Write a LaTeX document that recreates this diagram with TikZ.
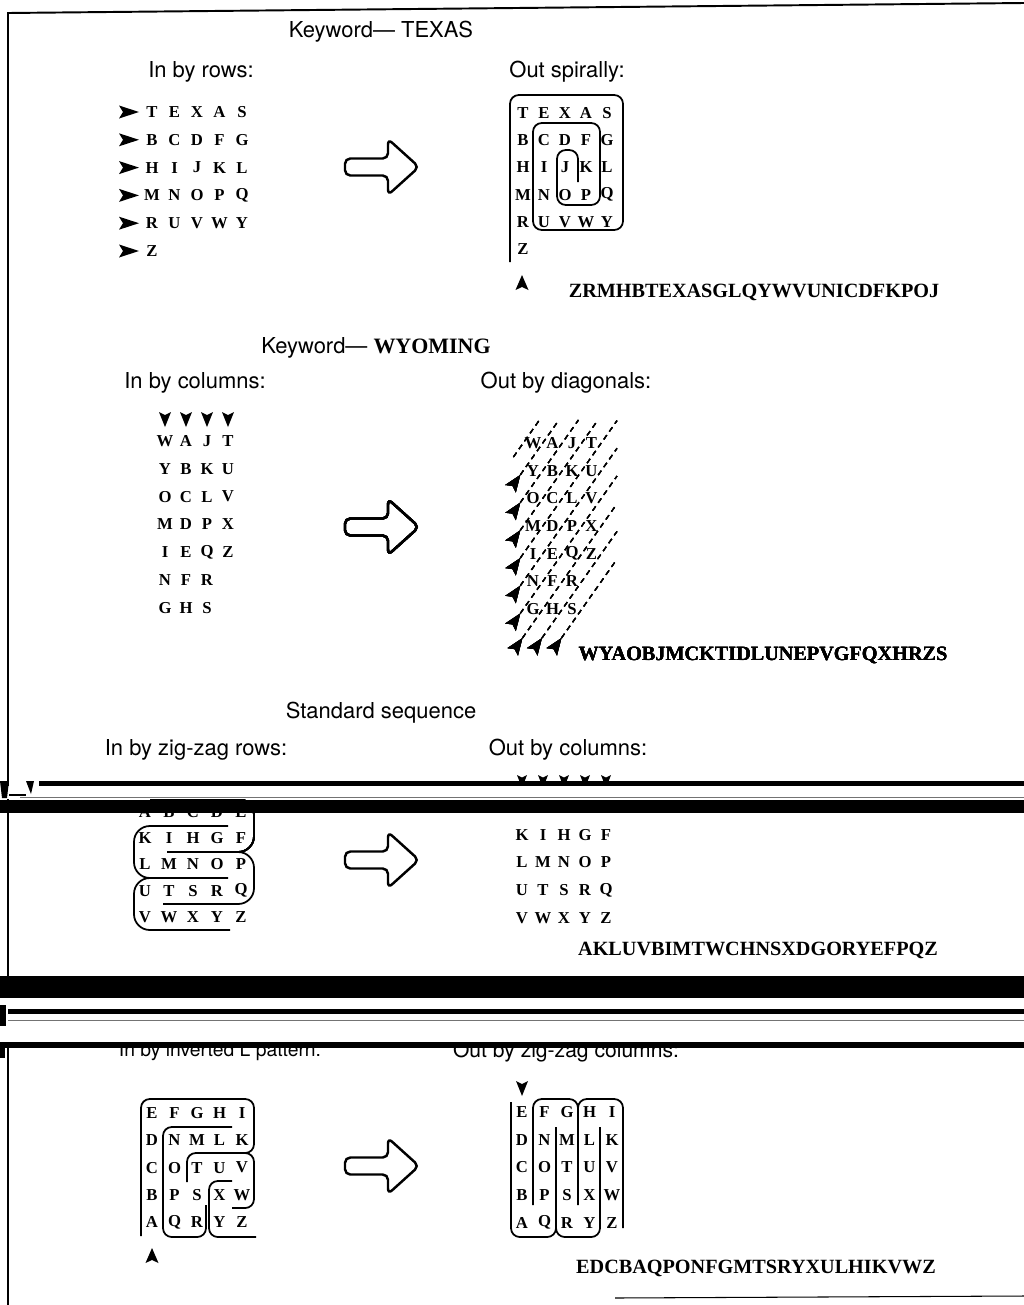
\documentclass[tikz,border=0pt]{standalone}
\usepackage{fontspec}
\setmainfont{Liberation Serif}
\setsansfont{TeX Gyre Heros}
\usepackage{tikz}
\usetikzlibrary{arrows.meta}

\newcommand{\tipmark}[5]{\fill[shift={(#1,#2)},rotate=#3] (0,0) -- ({-#4},{#5}) -- ({-0.8*#4},0) -- ({-#4},{-#5}) -- cycle;}
\newcommand{\bigarrow}[2]{\draw[blockarrow,shift={(#1,#2)}] (-16,-8.5) -- (5,-8.5) -- (5,-28) -- (36,0) -- (5,28) -- (5,8.5) -- (-38,8.5) -- (-38,-8.5) -- cycle;}

\begin{document}
\begin{tikzpicture}[x=0.02cm,y=-0.02cm,>=Stealth,
  headtxt/.style={font=\sffamily\fontsize{12.5}{15}\selectfont,inner sep=0pt},
  gridletter/.style={font=\bfseries\fontsize{9.5}{11}\selectfont,inner sep=0pt},
  codeline/.style={font=\bfseries\fontsize{11.5}{14}\selectfont,inner sep=0pt},
  wall/.style={line width=1pt,rounded corners=5pt},
  blockarrow/.style={line width=1.4pt,rounded corners=3pt},
  diagline/.style={line width=0.7pt,dash pattern=on 3pt off 2.5pt}]
\useasboundingbox (0,0) rectangle (1024,1305);

\draw[line width=1.1pt] (8,1305) -- (8,13) -- (1024,3);
\draw[line width=0.6pt] (615,1298) -- (1024,1296);

% keyword TEXAS
\node[headtxt] (kwtexas) at (381,32) {Keyword— TEXAS};
\node[headtxt] (inrows) at (201,72) {In by rows:};
\node[headtxt] (outspiral) at (567,72) {Out spirally:};
\foreach \row [count=\r from 0] in {{T,E,X,A,S},{B,C,D,F,G},{H,I,J,K,L},{M,N,O,P,Q},{R,U,V,W,Y},{Z}} {
  \foreach \l [count=\c from 0] in \row {
    \node[gridletter] (txin-\r-\c) at ({152+22.5*\c},{112+27.8*\r}) {\l};
    \node[gridletter] (txout-\r-\c) at ({523+21*\c},{113+27.2*\r}) {\l};
  }
  \tipmark{139}{112+27.8*\r}{0}{20}{6.5}
}
\bigarrow{383}{167}
\draw[wall] (510,262) -- (510,95) -- (623,95) -- (623,230) -- (533,230) -- (533,123) -- (600,123) -- (600,205) -- (557,205) -- (557,150) -- (578,150) -- (578,182);
\tipmark{522}{275}{90}{15}{6.5}
\node[codeline] (cipherA) at (754,292) {ZRMHBTEXASGLQYWVUNICDFKPOJ};

% keyword WYOMING
\node[headtxt] (kwwyoming) at (376,348) {Keyword— {\rmfamily\bfseries WYOMING}};
\node[headtxt] (incols) at (195,383) {In by columns:};
\node[headtxt] (outdiag) at (566,383) {Out by diagonals:};
\foreach \row [count=\r from 0] in {{W,A,J,T},{Y,B,K,U},{O,C,L,V},{M,D,P,X},{I,E,Q,Z},{N,F,R},{G,H,S}} {
  \foreach \l [count=\c from 0] in \row {
    \node[gridletter] (wyin-\r-\c) at ({165+21*\c},{441+27.8*\r}) {\l};
    \node[gridletter] (wyout-\r-\c) at ({533+19.5*\c},{443+27.7*\r}) {\l};
  }
}
\foreach \c in {0,...,3} \tipmark{165+21*\c}{427}{-90}{15}{6}
\foreach \s in {-0.5,0.5,...,8.5} {
  \pgfmathsetmacro{\xo}{533+19.5*\s}
  \pgfmathsetmacro{\ytop}{max(420,443-(617-\xo)/0.704)}
  \pgfmathsetmacro{\xtop}{\xo+0.704*(443-\ytop)}
  \pgfmathsetmacro{\ylow}{\s<0 ? 457 : min(443+27.7*(\s+0.65),638)}
  \pgfmathsetmacro{\xlow}{\xo-0.704*(\ylow-443)}
  \draw[diagline] (\xlow,\ylow) -- (\xtop,\ytop);
  \ifdim\s pt>0pt \tipmark{\xlow}{\ylow}{54.8}{17}{6.5}\fi
}
\bigarrow{383}{527}
\node[codeline] (cipherB) at (763,655) {WYAOBJMCKTIDLUNEPVGFQXHRZS};

% standard sequence
\node[headtxt] (stdseq) at (381,713) {Standard sequence};
\node[headtxt] (inzigzag) at (196,750) {In by zig-zag rows:};
\node[headtxt] (outcols) at (568,750) {Out by columns:};
\foreach \row [count=\r from 0] in {{A,B,C,D,E},{K,I,H,G,F},{L,M,N,O,P},{U,T,S,R,Q},{V,W,X,Y,Z}} {
  \foreach \l [count=\c from 0] in \row {
    \node[gridletter] (stin-\r-\c) at ({145+24*\c},{812+26.2*\r}) {\l};
    \node[gridletter] (stout-\r-\c) at ({522+21*\c},{807+27.7*\r}) {\l};
  }
}
\foreach \c in {0,...,4} \tipmark{522+21*\c}{788}{-90}{13}{5}
\draw[wall,rounded corners=9pt] (150,799) -- (254,799) -- (254,852) -- (167,852);
\draw[wall,rounded corners=9pt] (230,852) -- (254,852) -- (254,904) -- (163,904);
\draw[wall,rounded corners=9pt] (228,826) -- (134,826) -- (134,878) -- (228,878);
\draw[wall,rounded corners=9pt] (160,878) -- (134,878) -- (134,930) -- (230,930);
\bigarrow{383}{860}
\node[codeline] (cipherC) at (758,950) {AKLUVBIMTWCHNSXDGORYEFPQZ};

% inverted L / zig-zag columns
\node[headtxt,font=\sffamily\fontsize{11}{13}\selectfont] (inlpat) at (220,1052) {In by inverted L pattern:};
\node[headtxt,font=\sffamily\fontsize{12}{14}\selectfont] (outzzcols) at (566,1052) {Out by zig-zag columns:};
\foreach \row [count=\r from 0] in {{E,F,G,H,I},{D,N,M,L,K},{C,O,T,U,V},{B,P,S,X,W},{A,Q,R,Y,Z}} {
  \foreach \l [count=\c from 0] in \row {
    \node[gridletter] (lin-\r-\c) at ({152+22.5*\c},{1113+27.3*\r}) {\l};
    \node[gridletter] (zzout-\r-\c) at ({522+22.5*\c},{1112+27.7*\r}) {\l};
  }
}
\draw[wall] (141,1236) -- (141,1099) -- (254,1099) -- (254,1153) -- (187,1153) -- (187,1182);
\draw[wall] (235,1153) -- (254,1153) -- (254,1208) -- (232,1208);
\draw[wall] (232,1127) -- (163,1127) -- (163,1237) -- (206,1237) -- (206,1205);
\draw[wall] (232,1181) -- (209,1181) -- (209,1237) -- (256,1237);
\tipmark{152}{1248}{90}{15}{6.5}
\draw[wall] (511,1102) -- (511,1237) -- (556,1237) -- (556,1127);
\draw[wall] (533,1205) -- (533,1099) -- (578,1099) -- (578,1205);
\draw[wall] (556,1215) -- (556,1237) -- (600,1237) -- (600,1127);
\draw[wall] (578,1120) -- (578,1099) -- (623,1099) -- (623,1228);
\tipmark{522}{1096}{-90}{15}{6}
\bigarrow{383}{1166}
\node[codeline] (cipherD) at (756,1268) {EDCBAQPONFGMTSRYXULHIKVWZ};

% scan bands
\fill[white] (0,786) rectangle (1024,799);
\fill (39,781) rectangle (1024,786);
\fill (0,781) -- (9,781) -- (7,798) -- (2,798) -- cycle;
\fill (26,781) -- (34,781) -- (31,794) -- cycle;
\draw[line width=0.6pt] (9,795) -- (26,795);
\draw[black!55,line width=0.5pt] (20,797) -- (1024,797);
\fill (0,799.5) rectangle (1024,813);
\fill (0,976) rectangle (1024,998);
\fill[white] (0,998) rectangle (1024,1042);
\fill (8,1009) rectangle (1024,1013.5);
\fill (0,1005) rectangle (6,1026);
\draw[black!55,line width=0.5pt] (8,1020) -- (1024,1020);
\fill (0,1042) rectangle (1024,1048);
\fill (0,1048) rectangle (5,1058);
\end{tikzpicture}
\end{document}
